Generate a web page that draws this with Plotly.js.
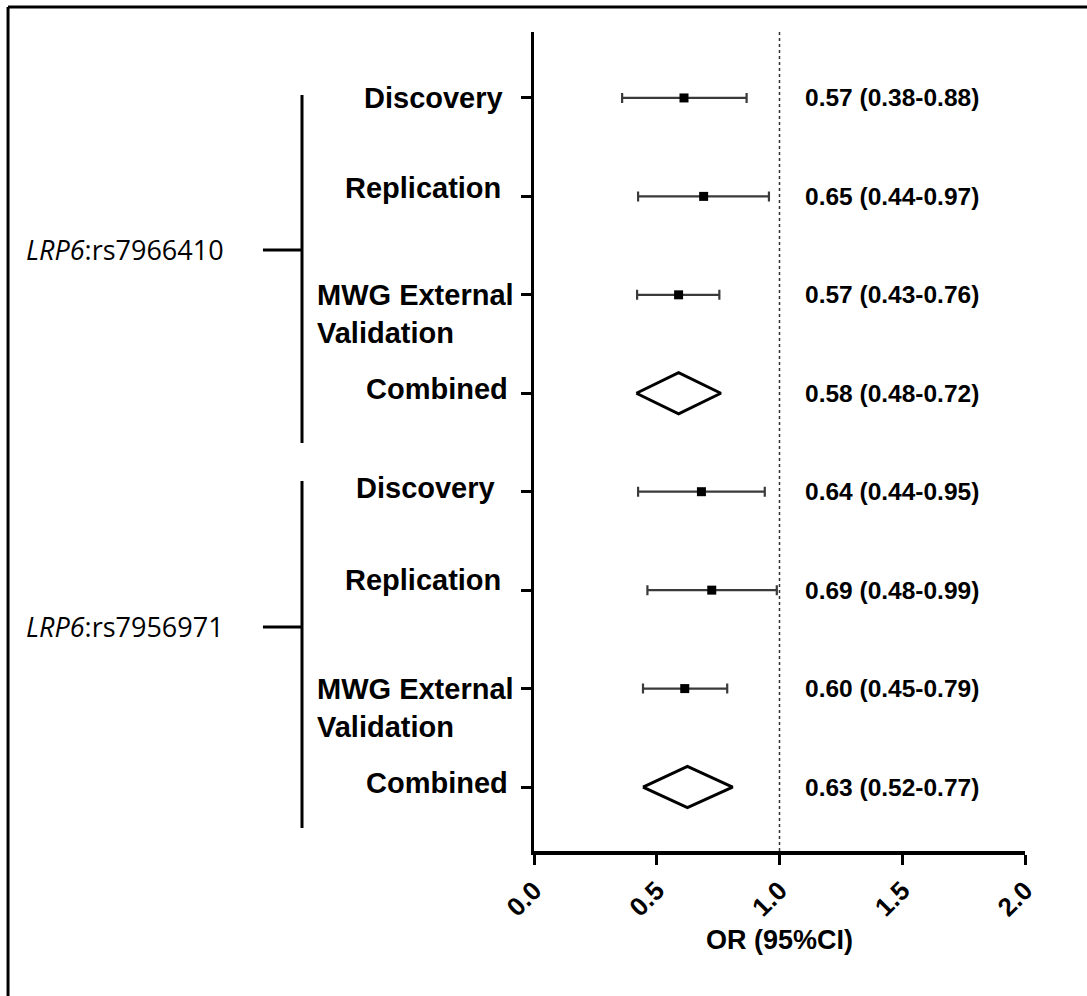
<!DOCTYPE html>
<html>
<head>
<meta charset="utf-8">
<script src="https://cdn.plot.ly/plotly-3.0.1.min.js"></script>
<style>html,body{margin:0;padding:0;background:#fff;}#chart{width:1087px;height:996px;}</style>
</head>
<body>
<div id="chart"></div>
<script>
// ---- data ----
const groupLabels = ['<i>LRP6</i>:rs7966410', '<i>LRP6</i>:rs7956971'];
const studyLabels = ['Discovery', 'Replication', 'MWG External<br>Validation', 'Combined',
                     'Discovery', 'Replication', 'MWG External<br>Validation', 'Combined'];
const rows = [8, 7, 6, 5, 4, 3, 2, 1];
const estimates = [0.611, 0.691, 0.589, 0.589, 0.682, 0.724, 0.614, 0.625];
const lower     = [0.359, 0.424, 0.420, 0.417, 0.424, 0.462, 0.444, 0.444];
const upper     = [0.866, 0.957, 0.755, 0.761, 0.940, 0.989, 0.787, 0.809];
const isCombined = [false, false, false, true, false, false, false, true];
const valueLabels = ['0.57 (0.38-0.88)', '0.65 (0.44-0.97)', '0.57 (0.43-0.76)', '0.58 (0.48-0.72)',
                     '0.64 (0.44-0.95)', '0.69 (0.48-0.99)', '0.60 (0.45-0.79)', '0.63 (0.52-0.77)'];
const xTickVals = [0, 0.5, 1, 1.5, 2];
const xTickText = ['0.0', '0.5', '1.0', '1.5', '2.0'];
const refValue = 1.0;

// ---- styles ----
const FONT = 'Liberation Sans, Arial, sans-serif';
const diamondHalf = 0.21;
const labelShift = [0, 8, 18, 4, 4, 10, 18, 4];
const labelRight = [-0.059, -0.063, -0.446, -0.049, -0.075, -0.063, -0.446, -0.049];

// point estimates with CIs
const ptIdx = rows.map((r, i) => i).filter(i => !isCombined[i]);
const traces = [{
  type: 'scatter', mode: 'markers',
  x: ptIdx.map(i => estimates[i]),
  y: ptIdx.map(i => rows[i]),
  marker: {symbol: 'square', size: 9, color: '#000'},
  error_x: {
    type: 'data', symmetric: false,
    array: ptIdx.map(i => upper[i] - estimates[i]),
    arrayminus: ptIdx.map(i => estimates[i] - lower[i]),
    color: '#3a3a3a', thickness: 2.2, width: 5
  },
  hoverinfo: 'skip', showlegend: false
}];

// diamonds for combined
rows.forEach((r, i) => {
  if (!isCombined[i]) return;
  traces.push({
    type: 'scatter', mode: 'lines',
    x: [lower[i], estimates[i], upper[i], estimates[i], lower[i]],
    y: [r, r + diamondHalf, r, r - diamondHalf, r],
    fill: 'toself', fillcolor: '#fff',
    line: {color: '#000', width: 3},
    hoverinfo: 'skip', showlegend: false
  });
});

const annotations = [];
rows.forEach((r, i) => {
  const multi = studyLabels[i].indexOf('<br>') >= 0;
  annotations.push({
    xref: 'paper', yref: 'y',
    x: labelRight[i], y: r,
    xanchor: multi ? 'left' : 'right', yanchor: multi ? 'top' : 'middle',
    yshift: labelShift[i],
    align: 'left',
    text: '<b>' + studyLabels[i] + '</b>',
    showarrow: false,
    font: {family: FONT, size: 29, color: '#000'}
  });
  annotations.push({
    xref: 'x', yref: 'y', x: 1.097, y: r,
    xanchor: 'left', yanchor: 'middle',
    text: '<b>' + valueLabels[i] + '</b>',
    showarrow: false,
    font: {family: FONT, size: 24.5, color: '#000'}
  });
});

// group brackets
const groupCenters = [6.456, 2.626];
const groupSpans = [[8.03, 4.495], [4.109, 0.583]];
const shapes = [];
groupLabels.forEach((g, k) => {
  annotations.push({
    xref: 'paper', yref: 'y', x: -1.039, y: groupCenters[k],
    xanchor: 'left', yanchor: 'middle',
    text: g, showarrow: false,
    font: {family: 'Open Sans, sans-serif', size: 27, color: '#000', weight: 500}
  });
  shapes.push({type: 'line', xref: 'paper', yref: 'y', x0: -0.4725, x1: -0.4725,
               y0: groupSpans[k][0], y1: groupSpans[k][1], line: {color: '#000', width: 3}});
  shapes.push({type: 'line', xref: 'paper', yref: 'y', x0: -0.552, x1: -0.4725,
               y0: groupCenters[k], y1: groupCenters[k], line: {color: '#000', width: 3}});
});

// reference line
shapes.push({type: 'line', xref: 'x', yref: 'paper', x0: refValue, x1: refValue, y0: 0, y1: 1,
             line: {color: '#333', width: 1.5, dash: 'dot'}});
// frame (left and top)
shapes.push({type: 'line', xref: 'paper', yref: 'paper', x0: -1.0712, x1: -1.0712, y0: -0.25, y1: 1.0305,
             line: {color: '#000', width: 3}});
shapes.push({type: 'line', xref: 'paper', yref: 'paper', x0: -1.0712, x1: 1.2, y0: 1.0305, y1: 1.0305,
             line: {color: '#000', width: 3}});

const layout = {
  width: 1087, height: 996,
  margin: {l: 534, r: 62, t: 32, b: 145},
  paper_bgcolor: '#fff', plot_bgcolor: '#fff',
  showlegend: false,
  xaxis: {
    range: [0, 2], tickvals: xTickVals, ticktext: xTickText, tickangle: -45,
    ticks: 'outside', ticklen: 10, tickwidth: 3, tickcolor: '#000',
    showline: true, linewidth: 4, linecolor: '#000', showgrid: false, zeroline: false,
    tickfont: {family: FONT, size: 26, color: '#000', weight: 'bold'},
    title: {text: 'OR (95%CI)', standoff: 10, font: {family: FONT, size: 27, color: '#000', weight: 'bold'}},
    fixedrange: true
  },
  yaxis: {
    range: [0.35, 8.67], tickvals: rows, showticklabels: false,
    ticks: 'outside', ticklen: 10, tickwidth: 3, tickcolor: '#000',
    showline: true, linewidth: 3, linecolor: '#000', showgrid: false, zeroline: false,
    fixedrange: true
  },
  annotations: annotations,
  shapes: shapes
};

Plotly.newPlot('chart', traces, layout, {displayModeBar: false, staticPlot: true});
</script>
</body>
</html>
